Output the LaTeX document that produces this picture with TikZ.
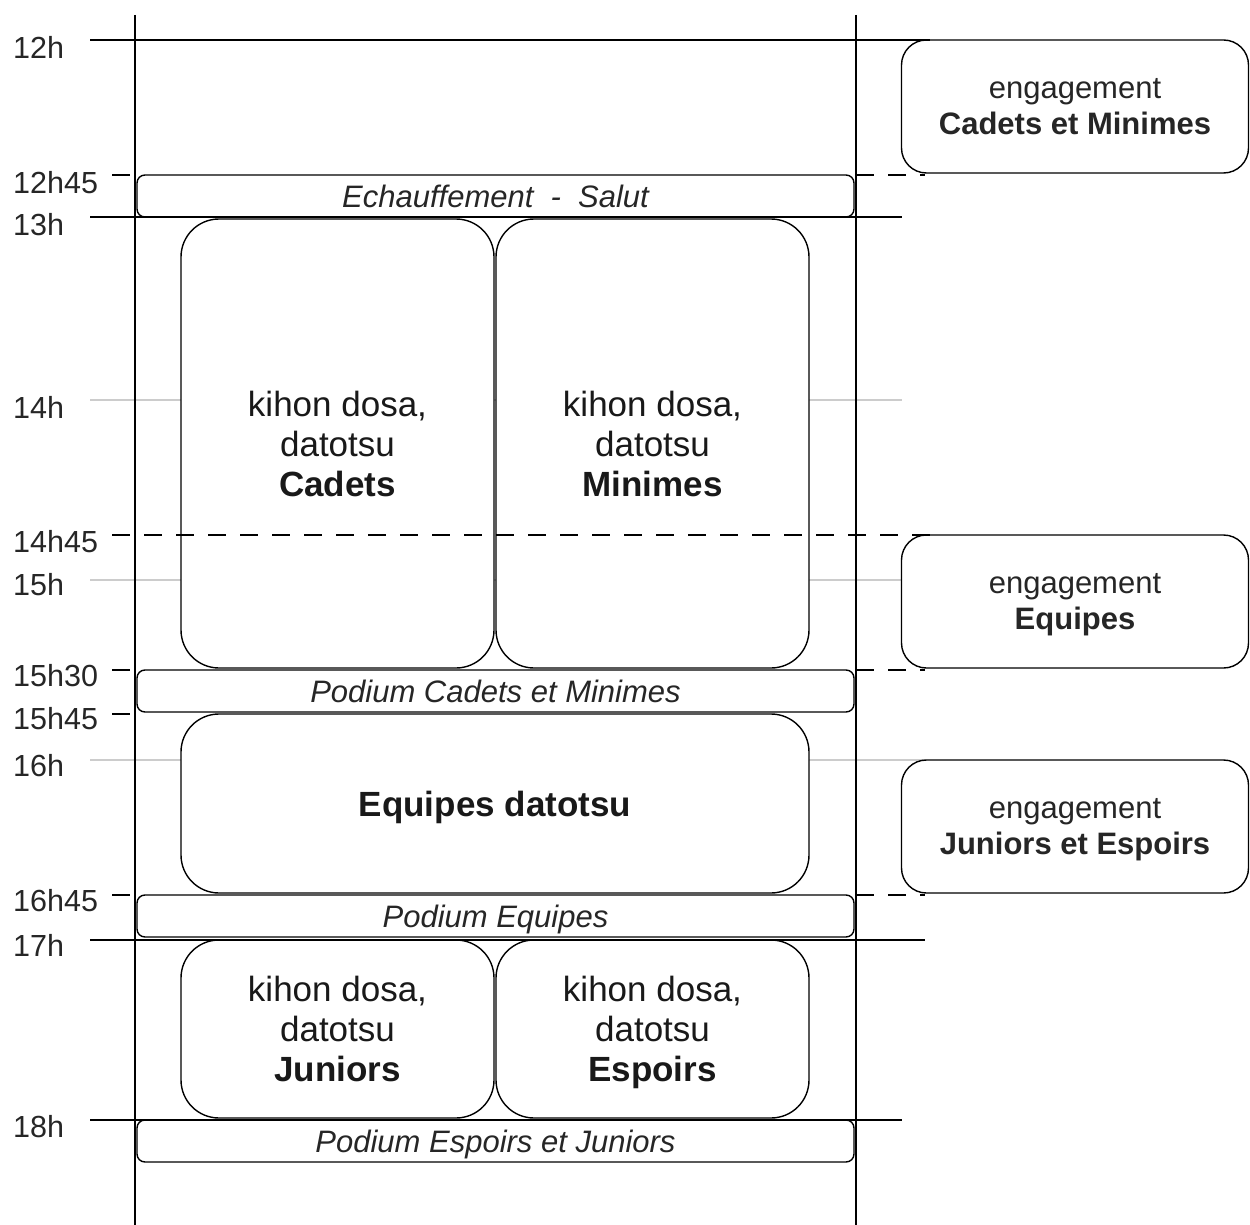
\documentclass[tikz,border=0pt]{standalone}
\usepackage{fontspec}
\setmainfont{Liberation Sans}
\begin{document}
\begin{tikzpicture}[x=1pt,y=-1pt,
  tl/.style={line width=1.4pt},
  gl/.style={line width=1.2pt, draw=black!20},
  dl/.style={line width=1.4pt, dash pattern=on 18pt off 14pt},
  hour/.style={anchor=west, font=\fontsize{30.5}{35}\selectfont, inner sep=0pt, text=black!85},
  podium/.style={draw, fill=white, line width=1.4pt, rounded corners=8pt, minimum width=717pt, minimum height=42pt, inner sep=0pt, text depth=0pt, text=black!85, font=\fontsize{31}{36}\selectfont\itshape},
  act/.style={draw, fill=white, line width=1.4pt, rounded corners=38pt, inner sep=0pt, align=center, text depth=0pt, text=black!90, font=\fontsize{35}{40}\selectfont},
  eng/.style={draw, fill=white, line width=1.4pt, rounded corners=25pt, inner sep=0pt, align=center, text depth=0pt, text=black!85, font=\fontsize{31}{36}\selectfont, minimum width=347pt, minimum height=133pt},
]
\useasboundingbox (0,0) rectangle (1250,1225);

% coordinates of the time axis
\coordinate (vLt) at (135,15);   \coordinate (vLb) at (135,1225);
\coordinate (vRt) at (856,15);   \coordinate (vRb) at (856,1225);

\coordinate (a12)  at (90,40);   \coordinate (b12)  at (930,40);
\coordinate (a1245) at (112,175); \coordinate (c1245) at (130,175);
\coordinate (d1245) at (856,175); \coordinate (e1245) at (925,175);
\coordinate (a13)  at (90,217);  \coordinate (b13)  at (902,217);
\coordinate (a14)  at (90,400);  \coordinate (b14)  at (902,400);
\coordinate (a1445) at (112,535); \coordinate (b1445) at (930,535);
\coordinate (a15)  at (90,580);  \coordinate (b15)  at (901,580);
\coordinate (a1530) at (112,670); \coordinate (c1530) at (130,670);
\coordinate (d1530) at (856,670); \coordinate (e1530) at (925,670);
\coordinate (a1545) at (112,714); \coordinate (c1545) at (130,714);
\coordinate (a16)  at (90,760);  \coordinate (b16)  at (925,760);
\coordinate (a1645) at (112,895); \coordinate (c1645) at (130,895);
\coordinate (d1645) at (856,895); \coordinate (e1645) at (925,895);
\coordinate (a17)  at (90,940);  \coordinate (b17)  at (925,940);
\coordinate (a18)  at (90,1120); \coordinate (b18)  at (902,1120);

% light grid lines (behind boxes)
\draw[gl] (a14) -- (b14);
\draw[gl] (a15) -- (b15);
\draw[gl] (a16) -- (b16);

% hour labels
\node[hour] (l12)   at (13,47)  {12h};
\node[hour] (l1245) at (13,183) {12h45};
\node[hour] (l13)   at (13,225) {13h};
\node[hour] (l14)   at (13,407) {14h};
\node[hour] (l1445) at (13,542) {14h45};
\node[hour] (l15)   at (13,585) {15h};
\node[hour] (l1530) at (13,676) {15h30};
\node[hour] (l1545) at (13,719) {15h45};
\node[hour] (l16)   at (13,766) {16h};
\node[hour] (l1645) at (13,901) {16h45};
\node[hour] (l17)   at (13,945) {17h};
\node[hour] (l18)   at (13,1127){18h};

% podium / transition bars
\node[podium] (echauf) at (495.5,196)  {Echauffement\ \ -\ \ Salut};
\node[podium] (podCM)  at (495.5,691)  {Podium Cadets et Minimes};
\node[podium] (podEq)  at (495.5,916)  {Podium Equipes};
\node[podium] (podEJ)  at (495.5,1141) {Podium Espoirs et Juniors};

% activity boxes
\node[act, minimum width=313pt, minimum height=449pt] (cadets)  at (337.5,443.5) {kihon dosa,\\datotsu\\\textbf{Cadets}};
\node[act, minimum width=313pt, minimum height=449pt] (minimes) at (652.5,443.5) {kihon dosa,\\datotsu\\\textbf{Minimes}};
\node[act, minimum width=628pt, minimum height=179pt] (equipes) at (495,803.5) {\textbf{Equipes datotsu}};
\node[act, minimum width=313pt, minimum height=178pt] (juniors) at (337.5,1029) {kihon dosa,\\datotsu\\\textbf{Juniors}};
\node[act, minimum width=313pt, minimum height=178pt] (espoirs) at (652.5,1029) {kihon dosa,\\datotsu\\\textbf{Espoirs}};

% engagement boxes
\node[eng] (engCM) at (1075,106.5) {engagement\\\textbf{Cadets et Minimes}};
\node[eng] (engEq) at (1075,601.5) {engagement\\\textbf{Equipes}};
\node[eng] (engJE) at (1075,826.5) {engagement\\\textbf{Juniors et Espoirs}};

% solid time lines
\draw[tl] (vLt) -- (vLb);
\draw[tl] (vRt) -- (vRb);
\draw[tl] (a12) -- (b12);
\draw[tl] (a13) -- (b13);
\draw[tl] (a17) -- (b17);
\draw[tl] (a18) -- (b18);
\draw[tl] (a1245) -- (c1245);
\draw[tl] (a1530) -- (c1530);
\draw[tl] (a1545) -- (c1545);
\draw[tl] (a1645) -- (c1645);

% dashed lines
\draw[dl] (a1445) -- (b1445);
\draw[dl] (d1245) -- (e1245);
\draw[dl] (d1530) -- (e1530);
\draw[dl] (d1645) -- (e1645);
\end{tikzpicture}
\end{document}
